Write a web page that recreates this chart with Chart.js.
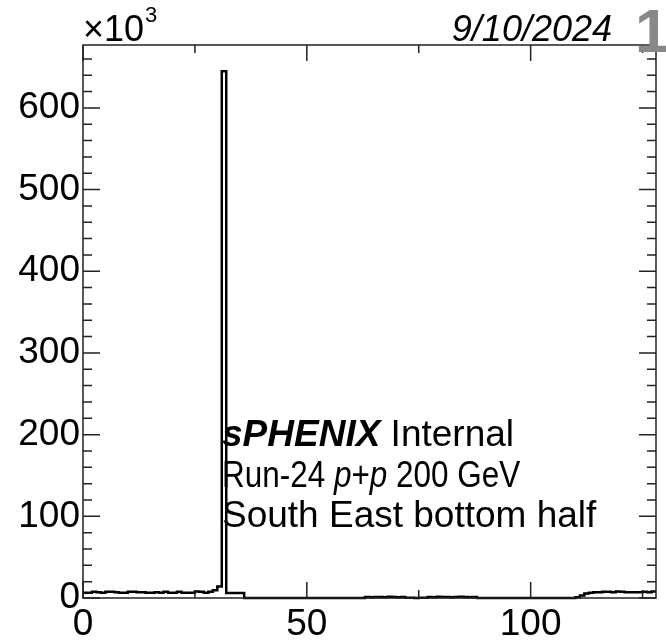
<!DOCTYPE html>
<html>
<head>
<meta charset="utf-8">
<script src="https://cdn.jsdelivr.net/npm/chart.js@4.4.1/dist/chart.umd.min.js"></script>
<style>
  html, body { margin: 0; padding: 0; background: #fff; }
  #wrap { width: 666px; height: 641px; }
</style>
</head>
<body>
<div id="wrap"><canvas id="myChart"></canvas></div>
<script>
// channel histogram, counts in units of 10^3, one bin per channel (0..127)
const channels = Array.from({ length: 128 }, (_, i) => i);
const countsK = [
  6.5, 6.5, 7.5, 7.0, 6.5, 7.5, 7.5, 7.0, 6.5, 6.5,
  7.5, 7.5, 7.0, 7.0, 6.5, 6.5, 7.0, 6.5, 7.5, 6.5,
  6.5, 7.5, 6.5, 6.5, 6.5, 8.0, 7.5, 6.5, 7.5, 9.5,
  14.0, 645.0, 6.0, 6.0, 6.0, 6.0, 0, 0, 0, 0,
  0, 0, 0, 0, 0, 0, 0, 0, 0, 0,
  0, 0, 0, 0, 0, 0, 0, 0, 0, 0,
  0, 0, 0, 1.2, 1.0, 1.2, 1.2, 1.0, 1.5, 1.2,
  1.0, 1.2, 0.3, 0.3, 0, 0.2, 0.3, 1.2, 1.0, 1.5,
  1.2, 1.2, 1.0, 1.2, 1.5, 1.2, 1.0, 1.2, 0, 0,
  0, 0, 0, 0, 0, 0, 0, 0, 0, 0,
  0, 0, 0, 0, 0, 0, 0, 0, 0, 0,
  1.0, 3.0, 5.5, 6.5, 7.0, 7.0, 7.5, 7.5, 7.0, 8.0,
  7.5, 7.0, 7.0, 7.0, 7.0, 7.5, 7.0, 8.0
];
const xTickLabels = [0, 50, 100];
const yTickLabels = [0, 100, 200, 300, 400, 500, 600];

const histPoints = channels.map((c, i) => ({ x: c, y: countsK[i] }));
histPoints.push({ x: 128, y: countsK[countsK.length - 1] });

const fontFam = '"Liberation Sans", Arial, Helvetica, sans-serif';

const rootFrame = {
  id: 'rootFrame',
  afterDraw(chart) {
    const { ctx, chartArea: a, scales } = chart;
    const x = scales.x, y = scales.y;
    ctx.save();
    ctx.strokeStyle = '#222';
    ctx.lineWidth = 1.5;
    ctx.strokeRect(a.left, a.top, a.right - a.left, a.bottom - a.top);
    // inside ticks, ROOT style
    ctx.beginPath();
    for (let v = 0; v <= 125; v += 25) {
      const px = x.getPixelForValue(v);
      const len = v % 50 === 0 ? 16 : 8;
      ctx.moveTo(px, a.bottom); ctx.lineTo(px, a.bottom - len);
      ctx.moveTo(px, a.top); ctx.lineTo(px, a.top + len);
    }
    for (let v = 0; v <= 660; v += 20) {
      const py = y.getPixelForValue(v);
      const len = v % 100 === 0 ? 17 : 9;
      ctx.moveTo(a.left, py); ctx.lineTo(a.left + len, py);
      ctx.moveTo(a.right, py); ctx.lineTo(a.right - len, py);
    }
    ctx.stroke();

    ctx.fillStyle = '#000';
    ctx.textBaseline = 'alphabetic';
    // x10^3
    ctx.textAlign = 'left';
    ctx.font = '36px ' + fontFam;
    ctx.fillText('\u00d710', a.left, 41);
    const w10 = ctx.measureText('\u00d710').width;
    ctx.font = '22px ' + fontFam;
    ctx.fillText('3', a.left + w10 + 1, 22);
    // date
    ctx.textAlign = 'right';
    ctx.font = 'italic 36px ' + fontFam;
    ctx.fillText('9/10/2024', 612, 41);
    // gray corner label
    ctx.textAlign = 'left';
    ctx.fillStyle = '#888';
    ctx.font = 'bold 62px ' + fontFam;
    ctx.fillText('1', 635, 52);

    // sPHENIX label
    ctx.fillStyle = '#000';
    const lx = 222;
    ctx.font = 'bold italic 37px ' + fontFam;
    ctx.fillText('sPHENIX', lx, 446);
    let off = ctx.measureText('sPHENIX ').width;
    ctx.font = '37px ' + fontFam;
    ctx.fillText('Internal', lx + off, 446);

    // second line is narrower in the original
    ctx.save();
    ctx.translate(lx, 487);
    ctx.scale(0.85, 1);
    const parts = [['Run-24 ', false], ['p', true], ['+', false], ['p', true], [' 200 GeV', false]];
    off = 0;
    for (const [t, it] of parts) {
      ctx.font = (it ? 'italic ' : '') + '37px ' + fontFam;
      ctx.fillText(t, off, 0);
      off += ctx.measureText(t).width;
    }
    ctx.restore();
    ctx.font = '37px ' + fontFam;
    ctx.fillText('South East bottom half', lx, 527);
    ctx.restore();
  }
};

const ctx = document.getElementById('myChart').getContext('2d');
const myChart = new Chart(ctx, {
  type: 'line',
  data: {
    datasets: [{
      label: 'counts',
      data: histPoints,
      stepped: true,
      borderColor: '#000',
      borderWidth: 2.5,
      pointRadius: 0,
      fill: false,
      clip: false
    }]
  },
  options: {
    responsive: true,
    maintainAspectRatio: false,
    animation: false,
    layout: { padding: { top: 45, right: 10, left: 0, bottom: 0 } },
    plugins: {
      legend: { display: false },
      tooltip: { enabled: false },
      title: { display: false }
    },
    scales: {
      x: {
        type: 'linear',
        min: 0,
        max: 128,
        grid: { display: false, drawTicks: false },
        border: { display: false },
        afterFit(scale) { scale.height = 43; },
        afterBuildTicks(scale) { scale.ticks = xTickLabels.map(v => ({ value: v })); },
        ticks: {
          color: '#000',
          padding: 5,
          maxRotation: 0,
          font: { family: fontFam, size: 37 },
          callback: v => String(v)
        }
      },
      y: {
        type: 'linear',
        min: 0,
        max: 677,
        grid: { display: false, drawTicks: false },
        border: { display: false },
        afterFit(scale) { scale.width = 83; },
        afterBuildTicks(scale) { scale.ticks = yTickLabels.map(v => ({ value: v })); },
        ticks: {
          color: '#000',
          padding: 3,
          font: { family: fontFam, size: 37 },
          callback: v => String(v)
        }
      }
    }
  },
  plugins: [rootFrame]
});
</script>
</body>
</html>
